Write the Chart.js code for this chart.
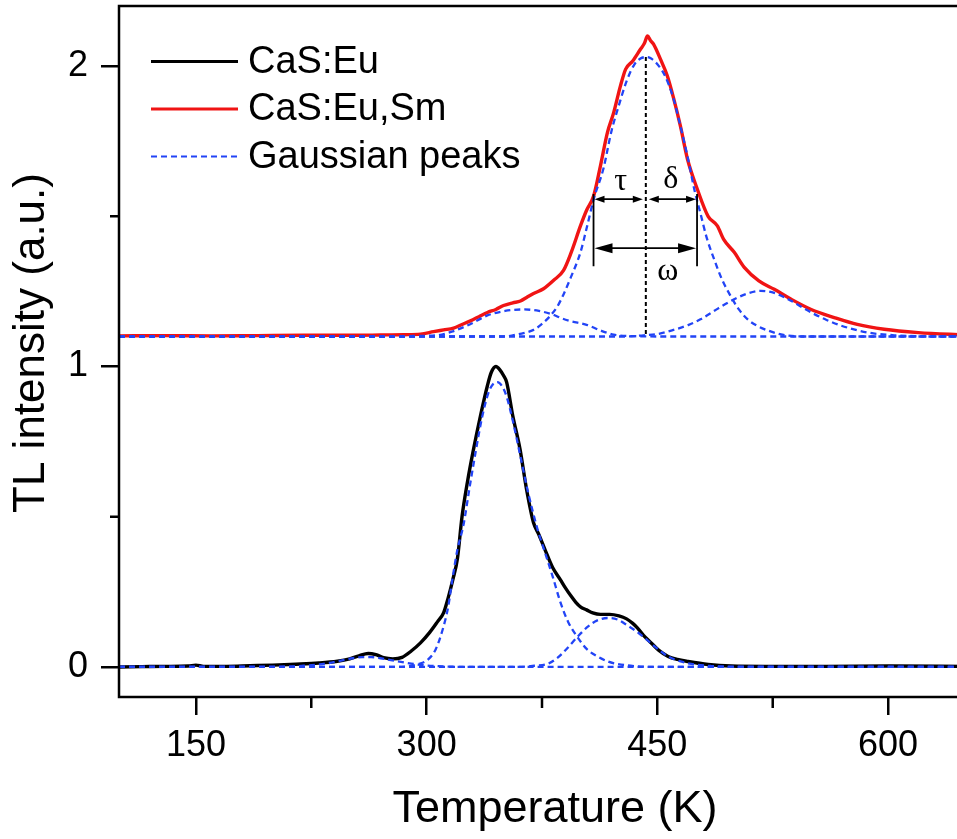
<!DOCTYPE html>
<html><head><meta charset="utf-8">
<script src="https://cdn.jsdelivr.net/npm/chart.js@4.4.1/dist/chart.umd.min.js"></script>
<style>html,body{margin:0;padding:0;overflow:hidden;background:#fff}canvas{display:block}</style>
</head><body>
<canvas id="c" width="970" height="839"></canvas>
<script>
// ---- tick labels / texts ----
const xTicks = [150, 300, 450, 600];
const xMinor = [225, 375, 525];
const yTicks = [0, 1, 2];
const yMinor = [0.5, 1.5];
const legendNames = ['CaS:Eu', 'CaS:Eu,Sm', 'Gaussian peaks'];
const xTitle = 'Temperature (K)';
const yTitle = 'TL intensity (a.u.)';

// ---- CaS:Eu (measured) ----
const euT = [100,115,130,145,150,155,170,185,200,215,230,242,250,256,262,267,272,278,284,290,296,302,307,311,314,317,320,323,326.5,330.5,335,339.5,342,345,347.5,350,352,356,360.7,365,369.5,373,377,382,387,390,394,397,400,404,408,413,419,425,430,434,437,441,446,451,457,463,470,483,498,520,560,600,650];
const euY = [0.000,0.001,0.002,0.003,0.006,0.002,0.002,0.004,0.006,0.009,0.013,0.019,0.027,0.037,0.045,0.041,0.031,0.027,0.032,0.053,0.08,0.115,0.15,0.18,0.23,0.29,0.36,0.50,0.615,0.725,0.836,0.936,0.98,1.0,0.99,0.97,0.948,0.836,0.725,0.59,0.48,0.44,0.39,0.33,0.29,0.265,0.235,0.215,0.2,0.19,0.18,0.175,0.175,0.17,0.16,0.145,0.13,0.105,0.08,0.055,0.035,0.025,0.018,0.008,0.003,0.002,0.002,0.003,0.002];

// ---- CaS:Eu Gaussian peaks ----
const g1T = [100,200,220,235,245,252,258,264,270,280,290,300,315,330,650];
const g1Y = [0,0,0.004,0.012,0.022,0.029,0.033,0.033,0.029,0.02,0.011,0.005,0.001,0,0];
const g2T = [100,280,295,301,306,311,314,317,320,324,328,332,336,340,343,346,349,352,356,361,366,372,377,382,387,392,398,404,411,418,424,435,450,650];
const g2Y = [0,0,0.01,0.025,0.06,0.135,0.2,0.3,0.39,0.474,0.6,0.72,0.83,0.91,0.94,0.948,0.935,0.9,0.82,0.7,0.58,0.46,0.38,0.3,0.215,0.15,0.1,0.06,0.035,0.018,0.01,0.003,0,0];
const g3T = [100,360,370,378.5,385,391,398,405,411,417.6,424,430,436,441,449,457,464,472,485,500,650];
const g3Y = [0,0,0.004,0.01,0.03,0.06,0.1,0.135,0.155,0.163,0.158,0.14,0.12,0.1,0.065,0.035,0.02,0.01,0.003,0,0];

// ---- CaS:Eu,Sm (measured, offset) ----
const smT = [100,130,160,190,220,250,270,285,296,304.5,311,317.5,323,328.5,334,339.5,345,350,356,361,365,369.5,376,382.6,389,394,400,404,408.6,413,417.6,421.6,426,429.4,434,439,441.5,443.6,445.5,447.5,452,456.5,460.7,465,469.6,476,483,489,493,500,506.5,516,526,537,550,565,580,597.5,619.6,650];
const smY = [1.102,1.103,1.102,1.103,1.104,1.104,1.105,1.106,1.108,1.116,1.122,1.128,1.14,1.152,1.166,1.18,1.19,1.203,1.212,1.218,1.23,1.243,1.259,1.287,1.32,1.38,1.468,1.52,1.568,1.668,1.78,1.845,1.934,1.99,2.017,2.056,2.075,2.10,2.085,2.073,2.023,1.967,1.89,1.80,1.69,1.59,1.50,1.468,1.424,1.38,1.33,1.285,1.257,1.224,1.19,1.163,1.14,1.124,1.113,1.105];

// ---- CaS:Eu,Sm Gaussian peaks ----
const u1T = [100,280,295,307,317.5,328,339.5,351,363,373,382.6,387,393,404.5,413,421.6,435,450,650];
const u1Y = [1.1,1.1,1.102,1.104,1.118,1.14,1.17,1.185,1.19,1.185,1.172,1.162,1.152,1.138,1.12,1.106,1.101,1.1,1.1];
const u2T = [100,350,360,369.5,375,380.6,385,389,393.6,400,404,408.6,415,420,425,430,435,439,442.5,446,451,455,460,465,470,474,478,482,486.7,492,497.6,503,508.7,515,521.8,532,545,650];
const u2Y = [1.1,1.1,1.108,1.122,1.142,1.17,1.2,1.24,1.295,1.38,1.46,1.557,1.66,1.78,1.87,1.95,2.005,2.025,2.03,2.025,2.0,1.967,1.9,1.8,1.69,1.59,1.51,1.43,1.36,1.29,1.235,1.19,1.157,1.135,1.12,1.105,1.1,1.1];
const u3T = [100,430,441,450,460,470,478,490,500,508,517.3,526,535,550,560,569.5,587,604,620,650];
const u3Y = [1.1,1.1,1.104,1.108,1.121,1.138,1.157,1.195,1.224,1.242,1.252,1.245,1.224,1.18,1.155,1.136,1.113,1.104,1.101,1.1];

const FONT = '"Liberation Sans", Arial, Helvetica, sans-serif';
const SERIF = '"Liberation Serif", "Times New Roman", serif';
const BLUE = '#2244f6', RED = '#f01414', BLACK = '#000000';

function pts(T, Y) { return T.map((t, i) => ({x: t, y: Y[i]})); }
const gStyle = {borderColor: BLUE, borderWidth: 2.3, borderDash: [6, 4], pointRadius: 0, fill: false, cubicInterpolationMode: 'monotone'};
const mStyle = {borderWidth: 3.4, pointRadius: 0, fill: false, cubicInterpolationMode: 'monotone', borderJoinStyle: 'round'};

function hArrow(ctx, x1, x2, y, hl, hw) {
  ctx.beginPath(); ctx.moveTo(x1 + hl * 0.6, y); ctx.lineTo(x2 - hl * 0.6, y); ctx.stroke();
  ctx.beginPath(); ctx.moveTo(x1, y); ctx.lineTo(x1 + hl, y - hw); ctx.lineTo(x1 + hl, y + hw); ctx.closePath(); ctx.fill();
  ctx.beginPath(); ctx.moveTo(x2, y); ctx.lineTo(x2 - hl, y - hw); ctx.lineTo(x2 - hl, y + hw); ctx.closePath(); ctx.fill();
}

const overlay = {
  id: 'overlay',
  afterDatasetsDraw(chart) {
    const {ctx, chartArea: a, scales: {x: xs, y: ys}} = chart;
    const X = v => xs.getPixelForValue(v), Y = v => ys.getPixelForValue(v);
    ctx.save();
    // frame
    ctx.strokeStyle = BLACK; ctx.lineWidth = 2.5;
    ctx.strokeRect(a.left, a.top, a.right - a.left, a.bottom - a.top);
    // minor ticks
    ctx.beginPath();
    yMinor.forEach(v => { ctx.moveTo(a.left - 9, Y(v)); ctx.lineTo(a.left, Y(v)); });
    xMinor.forEach(v => { ctx.moveTo(X(v), a.bottom); ctx.lineTo(X(v), a.bottom + 11); });
    ctx.stroke();

    // dotted centre line of the main peak
    ctx.save();
    ctx.setLineDash([4, 3]); ctx.lineWidth = 2;
    ctx.beginPath(); ctx.moveTo(X(442.5), Y(2.03)); ctx.lineTo(X(442.5), Y(1.1)); ctx.stroke();
    ctx.restore();
    // end bars
    ctx.lineWidth = 1.8; ctx.fillStyle = BLACK;
    ctx.beginPath();
    ctx.moveTo(X(408.5), Y(1.574)); ctx.lineTo(X(408.5), Y(1.334));
    ctx.moveTo(X(475.8), Y(1.574)); ctx.lineTo(X(475.8), Y(1.334));
    ctx.stroke();
    hArrow(ctx, X(408.5) + 1, X(442.5) - 3, Y(1.557), 10, 3.5);
    hArrow(ctx, X(442.5) + 3, X(475.8) - 1, Y(1.557), 10, 3.5);
    hArrow(ctx, X(408.5) + 1, X(475.8) - 1, Y(1.394), 18, 5);
    ctx.font = '32px ' + SERIF; ctx.textAlign = 'center'; ctx.textBaseline = 'middle';
    ctx.fillText('τ', X(426.2), Y(1.617));
    ctx.fillText('δ', X(458.8), Y(1.617) - 2);
    ctx.fillText('ω', X(456.8), Y(1.317));

    // legend
    const styles = [
      {c: BLACK, w: 3, d: []},
      {c: RED, w: 3, d: []},
      {c: BLUE, w: 2.2, d: [6, 4]}
    ];
    ctx.font = '38px ' + FONT; ctx.textAlign = 'left'; ctx.textBaseline = 'middle';
    legendNames.forEach((n, i) => {
      const yy = a.top + 55.5 + i * 47.5;
      ctx.save();
      ctx.strokeStyle = styles[i].c; ctx.lineWidth = styles[i].w; ctx.setLineDash(styles[i].d);
      ctx.beginPath(); ctx.moveTo(a.left + 32, yy); ctx.lineTo(a.left + 119, yy); ctx.stroke();
      ctx.restore();
      ctx.fillStyle = BLACK;
      ctx.fillText(n, a.left + 129, yy + 1);
    });

    // axis titles
    ctx.fillStyle = BLACK; ctx.textAlign = 'center'; ctx.textBaseline = 'middle';
    ctx.font = '45px ' + FONT;
    ctx.fillText(xTitle, 555, 810);
    ctx.save();
    ctx.translate(32, 343); ctx.rotate(-Math.PI / 2);
    ctx.font = '44px ' + FONT;
    ctx.fillText(yTitle, 0, 0);
    ctx.restore();
    ctx.restore();
  }
};

new Chart(document.getElementById('c'), {
  type: 'line',
  data: {
    datasets: [
      {...gStyle, label: 'Gaussian peaks', data: pts(u2T, u2Y)},
      {...gStyle, label: 'Gaussian peaks', data: pts(u1T, u1Y)},
      {...gStyle, label: 'Gaussian peaks', data: pts(u3T, u3Y)},
      {...gStyle, label: 'Gaussian peaks', data: pts(g2T, g2Y)},
      {...gStyle, label: 'Gaussian peaks', data: pts(g1T, g1Y)},
      {...gStyle, label: 'Gaussian peaks', data: pts(g3T, g3Y)},
      {...mStyle, label: legendNames[1], borderColor: RED, data: pts(smT, smY)},
      {...mStyle, label: legendNames[0], borderColor: BLACK, data: pts(euT, euY)}
    ]
  },
  options: {
    responsive: false,
    animation: false,
    layout: {padding: {left: 0, right: 5, top: 6, bottom: 0}},
    plugins: {legend: {display: false}, tooltip: {enabled: false}},
    scales: {
      x: {
        type: 'linear', min: 100, max: 650,
        afterBuildTicks: s => { s.ticks = xTicks.map(v => ({value: v})); },
        afterFit: s => { s.height = 142; s.paddingLeft = 0; s.paddingRight = 0; },
        border: {display: false},
        grid: {drawOnChartArea: false, color: BLACK, lineWidth: 2.5, tickLength: 18},
        ticks: {color: BLACK, font: {family: FONT, size: 36}, padding: 9, maxRotation: 0, autoSkip: false},
        title: {display: false, text: xTitle}
      },
      y: {
        type: 'linear', min: -0.1, max: 2.2,
        afterBuildTicks: s => { s.ticks = yTicks.map(v => ({value: v})); },
        afterFit: s => { s.width = 119; s.paddingTop = 0; s.paddingBottom = 0; },
        border: {display: false},
        grid: {drawOnChartArea: false, color: BLACK, lineWidth: 2.5, tickLength: 18},
        ticks: {color: BLACK, font: {family: FONT, size: 36}, padding: 13, callback: v => String(v)},
        title: {display: false, text: yTitle}
      }
    }
  },
  plugins: [overlay]
});
</script>
</body></html>
